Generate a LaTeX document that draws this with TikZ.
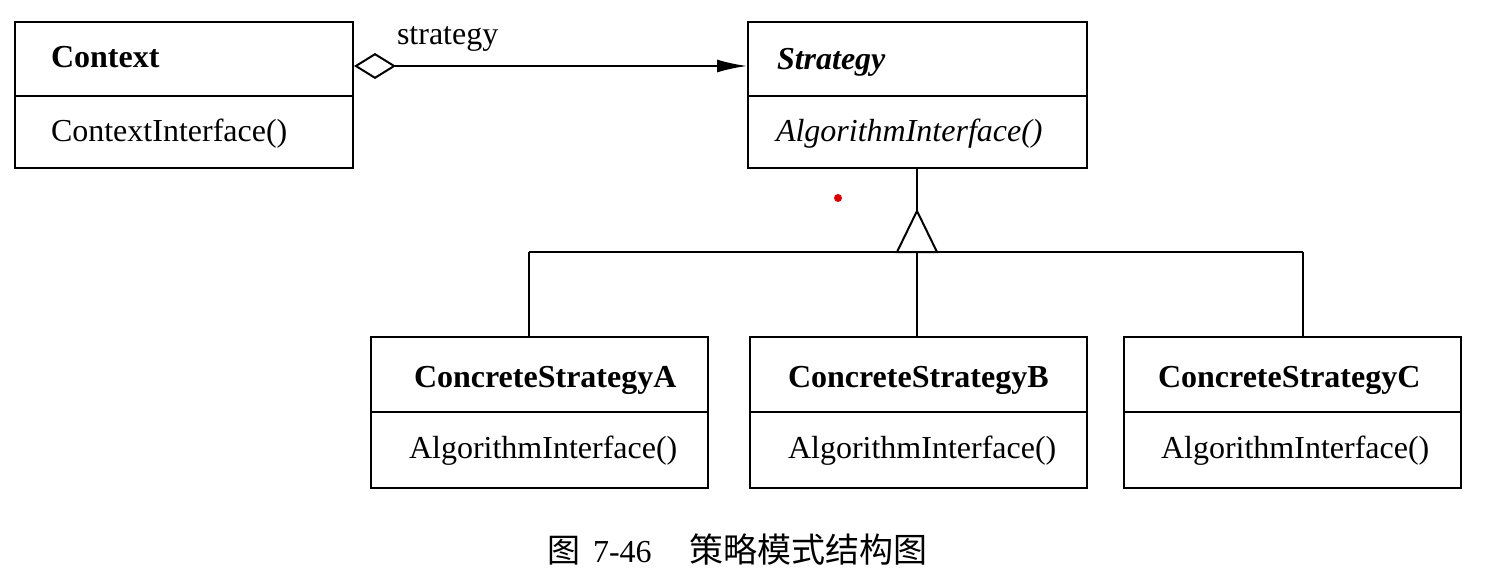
\documentclass[tikz,border=0pt]{standalone}
\usepackage{fontspec}
\setmainfont{Liberation Serif}
\newfontfamily\cjk{Noto Sans CJK SC}
\usetikzlibrary{arrows.meta}
\begin{document}
\begin{tikzpicture}[x=1pt,y=-1pt,line width=2pt,
  classbox/.style={draw,line width=2pt,inner sep=0pt,minimum height=146pt},
  lowbox/.style={draw,line width=2pt,inner sep=0pt,minimum height=151pt,minimum width=337pt},
  txt/.style={font=\fontsize{32}{38}\selectfont,inner sep=0pt,anchor=base west},
  captxt/.style={font=\fontsize{32}{38}\selectfont,inner sep=0pt,anchor=base west}]
\useasboundingbox (0,0) rectangle (1510,578);
\coordinate (yA) at (0,96);
\coordinate (yB) at (0,412);
\coordinate (yC) at (0,66);
\coordinate (yD) at (0,252);
% class boxes
\node[classbox,minimum width=338pt] (ctx) at (184,95) {};
\node[classbox,minimum width=339pt] (str) at (917.5,95) {};
\node[lowbox] (ca) at (539.5,412.5) {};
\node[lowbox] (cb) at (918.5,412.5) {};
\node[lowbox] (cc) at (1292.5,412.5) {};
% dividers
\foreach \b in {ctx,str}{\draw (\b.west |- yA) -- (\b.east |- yA);}
\foreach \b in {ca,cb,cc}{\draw (\b.west |- yB) -- (\b.east |- yB);}
% texts
\node[txt,font=\fontsize{32}{38}\selectfont\bfseries] (t1) at (50,68) {Context};
\node[txt] (t2) at (50,141) {ContextInterface()};
\node[txt,font=\fontsize{32}{38}\selectfont\bfseries\itshape] (t3) at (776,70) {Strategy};
\node[txt,font=\fontsize{32}{38}\selectfont\itshape] (t4) at (775,141) {AlgorithmInterface()};
\node[txt,font=\fontsize{32}{38}\selectfont\bfseries] (t5) at (413,387) {ConcreteStrategyA};
\node[txt] (t6) at (408,458) {AlgorithmInterface()};
\node[txt,font=\fontsize{32}{38}\selectfont\bfseries] (t7) at (787,387) {ConcreteStrategyB};
\node[txt] (t8) at (787,458) {AlgorithmInterface()};
\node[txt,font=\fontsize{32}{38}\selectfont\bfseries] (t9) at (1157,387) {ConcreteStrategyC};
\node[txt] (t10) at (1160,458) {AlgorithmInterface()};
% aggregation
\draw[{Diamond[open,length=42pt,width=26pt]}-{Latex[length=30pt,width=13pt]}]
  (ctx.east |- yC) -- (str.west |- yC);
\node[txt] (lbl) at (396,45) {strategy};
% inheritance
\coordinate (apex) at (917,211);
\coordinate (bl) at (897,252);
\coordinate (br) at (937,252);
\coordinate (busA) at (529,252);
\coordinate (busB) at (917,252);
\coordinate (busC) at (1303,252);
\draw (str.south -| apex) -- (apex);
\draw[line join=miter] (apex) -- (bl) -- (br) -- cycle;
\draw (busA) -- (busC);
\draw (busA) -- (ca.north -| busA);
\draw (busC) -- (cc.north -| busC);
\draw (busB) -- (cb.north -| busB);
% red dot
\fill[red!85!black] (838,198) circle (4pt);
% caption
\node[captxt,font=\fontsize{33}{38}\selectfont\cjk] (c1) at (546,562) {图};
\node[captxt] (c2) at (592,562) {7-46};
\node[captxt,font=\fontsize{34}{38}\selectfont\cjk] (c3) at (688,562) {策略模式结构图};
\end{tikzpicture}
\end{document}
